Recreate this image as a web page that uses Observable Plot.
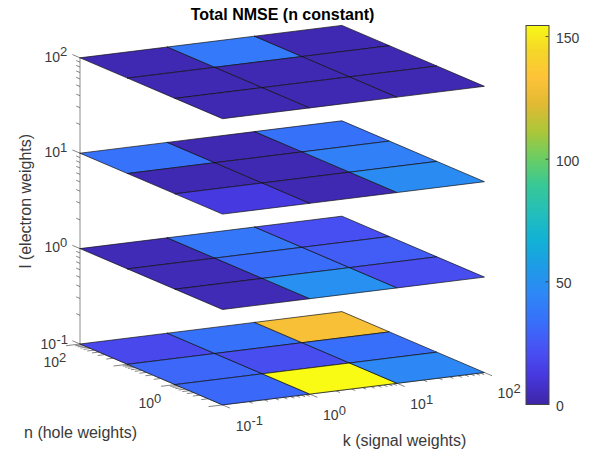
<!DOCTYPE html>
<html>
<head>
<meta charset="utf-8">
<script src="https://cdn.jsdelivr.net/npm/d3@7"></script>
<script src="https://cdn.jsdelivr.net/npm/@observablehq/plot@0.6"></script>
<style>
  html, body { margin: 0; padding: 0; background: #fff; }
  #chart { display: flex; width: 592px; height: 454px; }
  svg { display: block; }
</style>
</head>
<body>
<div id="chart"></div>
<script>
// ---- data: log10 grid edges and total NMSE on each l slice (rows n: 100→0.1, columns k: 0.1→100)
const kEdges = [-1, 0, 1, 2];
const nEdges = [2, 1, 0, -1];
const lLevels = [2, 1, 0, -1];
const nmseL100 = [[2, 38, 2], [2, 2, 2], [2, 2, 2]];
const nmseL10  = [[35, 2, 34], [2, 2, 41], [12, 2, 47]];
const nmseL1   = [[3, 37, 21], [3, 32, 26], [3, 49, 20]];
const nmseL01  = [[18, 34, 130], [30, 20, 33], [31, 155, 45]];
const slices = [nmseL100, nmseL10, nmseL1, nmseL01];

const kTicks = [-1, 0, 1, 2];
const nTicks = [2, 0];
const lTicks = [2, 1, 0, -1];
const minorDigits = [2, 3, 4, 5, 6, 7, 8, 9];

const colorMax = 154.5;
const colorTicks = [0, 50, 100, 150];
const parulaStops = [0, .0714, .1429, .2143, .2857, .3571, .4286, .5, .5714, .6429, .7143, .7857, .8571, .9286, 1];
const parulaColors = ["#3e26a8", "#4737de", "#4852f4", "#376ffa", "#2e87f7", "#1e9be6", "#12b1d6", "#23bebb", "#37c897", "#69cd64", "#abc739", "#e1b933", "#fec338", "#f5d728", "#f9fb15"];

// ---- orthographic view of the log-log-log box
const view = { ox: 222, oy: 404.4, kx: 87.3, ky: -10.8, nx: -47.5, ny: -20.3, lx: 0, ly: -95.4 };
const project = (k, n, l) => ({
  x: view.ox + (k + 1) * view.kx + (n + 1) * view.nx + (l + 1) * view.lx,
  y: view.oy + (k + 1) * view.ky + (n + 1) * view.ny + (l + 1) * view.ly
});

// cell polygons
const vertices = [];
slices.forEach((grid, s) => grid.forEach((row, j) => row.forEach((value, i) => {
  const l = lLevels[s];
  [[i, j], [i + 1, j], [i + 1, j + 1], [i, j + 1], [i, j]].forEach(([a, b]) => {
    vertices.push({ id: `${s}-${j}-${i}`, value, ...project(kEdges[a], nEdges[b], l) });
  });
})));

const colorScale = { type: "linear", domain: parulaStops.map(t => t * 155), range: parulaColors, interpolate: "rgb", clamp: true };

// ticks: each is a short segment along a box direction
const decadeTicks = (decades, at) => {
  const out = [];
  decades.forEach(d => {
    out.push({ ...at(d), major: true });
    minorDigits.forEach(m => {
      const v = d + Math.log10(m);
      out.push({ ...at(v), major: false, v });
    });
  });
  return out;
};
const inRange = t => t.v === undefined || t.v <= 2;
const tickLen = t => (t.major ? 0.16 : 0.08);

const lTickData = decadeTicks(lLevels, l => ({ p: project(-1, 2, l) })).filter(inRange).map(t => ({
  x1: t.p.x, y1: t.p.y,
  x2: t.p.x + view.nx * tickLen(t), y2: t.p.y + view.ny * tickLen(t)
}));
const kTickData = decadeTicks(kEdges, k => ({ p: project(k, -1, -1) })).filter(inRange).map(t => ({
  x1: t.p.x, y1: t.p.y,
  x2: t.p.x - view.nx * tickLen(t), y2: t.p.y - view.ny * tickLen(t)
}));
const nTickData = decadeTicks([-1, 0, 1, 2], n => ({ p: project(-1, n, -1) })).filter(inRange).map(t => ({
  x1: t.p.x, y1: t.p.y,
  x2: t.p.x - view.kx * tickLen(t), y2: t.p.y - view.ky * tickLen(t)
}));
const axisLines = [
  { a: project(-1, 2, -1), b: project(-1, 2, 2) },
  { a: project(-1, 2, -1), b: project(-1, -1, -1) },
  { a: project(-1, -1, -1), b: project(2, -1, -1) }
];

const expText = d => String(d);
const kLabels = kTicks.map(d => ({ d, ...project(d, -1, -1) }));
const nLabels = nTicks.map(d => ({ d, ...project(-1, d, -1) }));
const lLabels = lTicks.map(d => ({ d, ...project(-1, 2, d) }));

const font = "Liberation Sans, Arial, Helvetica, sans-serif";
const tickInk = "#3a3a3a";
const baseText = (data, dx, dy) => Plot.text(data, {
  x: "x", y: "y", text: () => "10", dx, dy,
  textAnchor: "start", lineAnchor: "bottom", fontSize: 14, fontFamily: font, fill: tickInk
});
const expMark = (data, dx, dy) => Plot.text(data, {
  x: "x", y: "y", text: d => expText(d.d), dx, dy,
  textAnchor: "start", lineAnchor: "bottom", fontSize: 13, fontFamily: font, fill: tickInk
});

const lPos = lLabels.filter(d => d.d >= 0);
const lNeg = lLabels.filter(d => d.d < 0);

const main = Plot.plot({
  width: 524, height: 454,
  marginTop: 0, marginRight: 0, marginBottom: 0, marginLeft: 0,
  x: { domain: [0, 524], range: [0, 524], axis: null },
  y: { domain: [0, 454], range: [0, 454], axis: null },
  color: colorScale,
  style: { fontFamily: font, background: "transparent" },
  marks: [
    Plot.link(axisLines, { x1: d => d.a.x, y1: d => d.a.y, x2: d => d.b.x, y2: d => d.b.y, stroke: "#8c8c8c", strokeWidth: 1 }),
    Plot.link(lTickData, { x1: "x1", y1: "y1", x2: "x2", y2: "y2", stroke: "#666", strokeWidth: 0.8 }),
    Plot.link(kTickData, { x1: "x1", y1: "y1", x2: "x2", y2: "y2", stroke: "#666", strokeWidth: 0.8 }),
    Plot.link(nTickData, { x1: "x1", y1: "y1", x2: "x2", y2: "y2", stroke: "#666", strokeWidth: 0.8 }),
    Plot.line(vertices, { x: "x", y: "y", z: "id", fill: "value", stroke: "#111", strokeWidth: 0.7, strokeLinejoin: "round" }),
    baseText(lPos, -35.5, 3.8), expMark(lPos, -20, -1.5),
    baseText(lNeg, -39.5, 5), expMark(lNeg, -23.6, -0.5),
    baseText(kLabels, 13.2, 25.6), expMark(kLabels, 29, 20.5),
    baseText(nLabels, -36.5, 23), expMark(nLabels, -21, 18),
    Plot.text(["Total NMSE (n constant)"], { x: () => 282, y: () => 19, text: d => d, fontSize: 16, fontWeight: "bold", lineAnchor: "bottom", fontFamily: font, fill: "#000" }),
    Plot.text(["k (signal weights)"], { x: () => 404, y: () => 445, text: d => d, fontSize: 16, lineAnchor: "bottom", fontFamily: font, fill: tickInk }),
    Plot.text(["n (hole weights)"], { x: () => 80, y: () => 437.3, text: d => d, fontSize: 16, lineAnchor: "bottom", fontFamily: font, fill: tickInk }),
    Plot.text(["l (electron weights)"], { x: () => 25, y: () => 200.5, text: d => d, fontSize: 16, rotate: -90, fontFamily: font, fill: tickInk })
  ]
});

// colour bar
const levels = d3.range(0, colorMax, colorMax / 256);
const bar = Plot.plot({
  width: 68, height: 454,
  marginTop: 25, marginBottom: 50, marginLeft: 1.5, marginRight: 43.5,
  x: { domain: [0, 1], axis: null },
  y: { domain: [0, colorMax], axis: null },
  color: colorScale,
  style: { fontFamily: font, background: "transparent" },
  marks: [
    Plot.rect(levels, { x1: () => 0, x2: () => 1, y1: d => d, y2: d => d + colorMax / 200, fill: d => d, shapeRendering: "crispEdges" }),
    Plot.ruleY(colorTicks, { x1: () => 0.87, x2: () => 1, stroke: "#333", strokeWidth: 0.8 }),
    Plot.frame({ stroke: "#444", strokeWidth: 1 }),
    Plot.axisY(colorTicks, { anchor: "right", tickSize: 0, tickPadding: 7, dy: 2, fontSize: 14, fontFamily: font, fill: tickInk, label: null, tickFormat: d => String(d) })
  ]
});

document.getElementById("chart").append(main, bar);
</script>
</body>
</html>
